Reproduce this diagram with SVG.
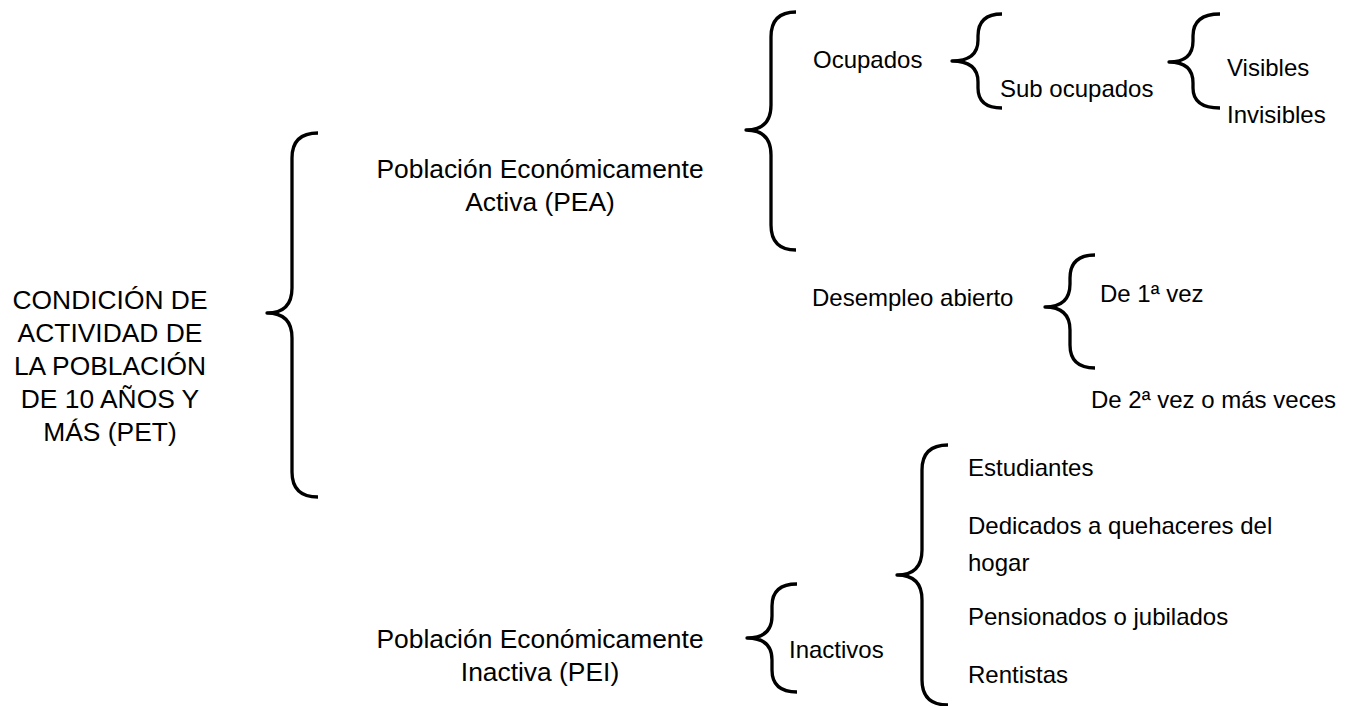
<svg xmlns="http://www.w3.org/2000/svg" width="1354" height="706" viewBox="0 0 1354 706">
<style>
.b{fill:none;stroke:#000;stroke-width:3.3;stroke-linecap:butt;stroke-linejoin:round}
.t{font-family:"Liberation Sans",Arial,sans-serif;fill:#000}
.L{font-size:26.4px}
.S{font-size:24px}
.m{text-anchor:middle}
</style>
<rect width="1354" height="706" fill="#fff"/>
<g id="connectors">
<path class="b" d="M318,133 Q292,133 292,158 L292,288 Q292,313 267,313 Q292,313 292,338 L292,472 Q292,497 318,497"/>
<path class="b" d="M796,12 Q771,12 771,37 L771,105 Q771,130 746,130 Q771,130 771,155 L771,225 Q771,250 796,250"/>
<path class="b" d="M1002,14 Q978,14 978,36 L978,40 Q978,61 952,61 Q978,61 978,82 L978,88 Q978,108 1002,108"/>
<path class="b" d="M1220,14 Q1193,14 1193,36 L1193,41 Q1193,62 1169,62 Q1193,62 1193,83 L1193,88 Q1193,108 1220,108"/>
<path class="b" d="M1095,255 Q1070,255 1070,278 L1070,284 Q1070,307 1045,307 Q1070,307 1070,330 L1070,345 Q1070,368 1095,368"/>
<path class="b" d="M797,584 Q772,584 772,606 L772,616 Q772,638 747,638 Q772,638 772,660 L772,670 Q772,692 797,692"/>
<path class="b" d="M948,445 Q922,445 922,470 L922,550 Q922,575 897,575 Q922,575 922,600 L922,680 Q922,705 948,705"/>
</g>
<g id="pet"><text class="t L m" x="110" y="309">CONDICIÓN DE</text><text class="t L m" x="110" y="342">ACTIVIDAD DE</text><text class="t L m" x="110" y="375">LA POBLACIÓN</text><text class="t L m" x="110" y="408">DE 10 AÑOS Y</text><text class="t L m" x="110" y="441">MÁS (PET)</text></g>
<g id="pea"><text class="t L m" x="540" y="178">Población Económicamente</text><text class="t L m" x="540" y="211">Activa (PEA)</text></g>
<g id="pei"><text class="t L m" x="540" y="648">Población Económicamente</text><text class="t L m" x="540" y="681">Inactiva (PEI)</text></g>
<g id="ocupados"><text class="t S" x="813" y="68">Ocupados</text></g>
<g id="subocupados"><text class="t S" x="1000" y="97">Sub ocupados</text></g>
<g id="visibles"><text class="t S" x="1227" y="76">Visibles</text></g>
<g id="invisibles"><text class="t S" x="1227" y="123">Invisibles</text></g>
<g id="desempleo"><text class="t S" x="812" y="306">Desempleo abierto</text></g>
<g id="primera"><text class="t S" x="1100" y="302">De 1ª vez</text></g>
<g id="segunda"><text class="t S" x="1091" y="408">De 2ª vez o más veces</text></g>
<g id="inactivos"><text class="t S" x="789" y="658">Inactivos</text></g>
<g id="estudiantes"><text class="t S" x="968" y="476">Estudiantes</text></g>
<g id="dedicados"><text class="t S" x="968" y="534">Dedicados a quehaceres del</text><text class="t S" x="968" y="571">hogar</text></g>
<g id="pensionados"><text class="t S" x="968" y="625">Pensionados o jubilados</text></g>
<g id="rentistas"><text class="t S" x="968" y="683">Rentistas</text></g>
</svg>
